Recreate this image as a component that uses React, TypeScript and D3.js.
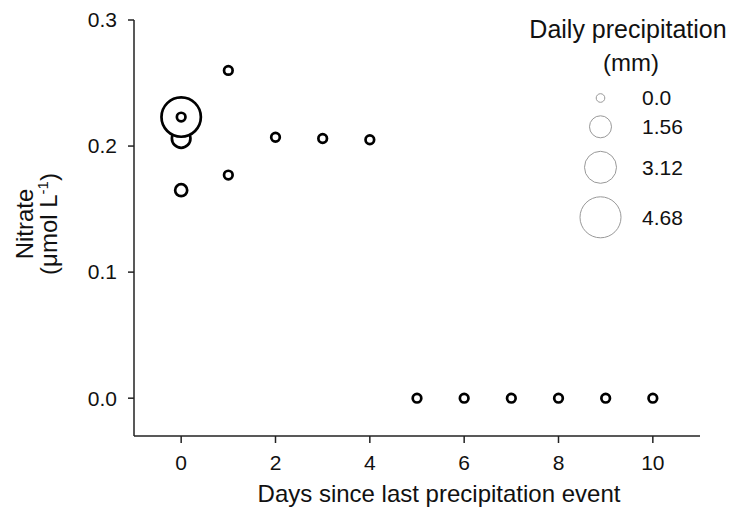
import React from "react";
import * as d3 from "d3";

const days = [0, 0, 0, 0, 1, 1, 2, 3, 4, 5, 6, 7, 8, 9, 10];
const nitrate = [0.206, 0.223, 0.223, 0.165, 0.26, 0.177, 0.207, 0.206, 0.205, 0, 0, 0, 0, 0, 0];
const precip = [1.16, 4.4, 0, 0.4, 0, 0, 0, 0, 0, 0, 0, 0, 0, 0, 0];

const xTicks = [0, 2, 4, 6, 8, 10];
const yTicks = [0, 0.1, 0.2, 0.3];
const legendValues = [0, 1.56, 3.12, 4.68];
const legendLabels = ["0.0", "1.56", "3.12", "4.68"];

const W = 730;
const H = 511;
const FONT = "'Liberation Sans', Arial, sans-serif";

export default function App() {
  const x = d3.scaleLinear().domain([-1, 11]).range([134, 700]);
  const y = d3.scaleLinear().domain([-0.03, 0.3]).range([436, 20]);
  const r = d3.scaleLinear().domain([0, 1.56, 3.12, 4.68]).range([4.3, 11, 16, 20.5]);
  const fmt = d3.format(".1f");

  const gap = 13.5;
  const legendY: number[] = [];
  legendValues.forEach((v, i) => {
    if (i === 0) legendY.push(98);
    else legendY.push(legendY[i - 1] + r(legendValues[i - 1]) + gap + r(v));
  });

  return (
    <svg
      width={W}
      height={H}
      style={{ position: "absolute", left: 0, top: 0, background: "#fff" }}
      fontFamily={FONT}
    >
      {/* axes */}
      <line x1={x(-1)} x2={x(-1)} y1={y(0.3)} y2={y(-0.03)} stroke="#222" strokeWidth={1.5} />
      <line x1={x(-1)} x2={x(11)} y1={y(-0.03)} y2={y(-0.03)} stroke="#222" strokeWidth={1.5} />
      {yTicks.map((t) => (
        <g key={"y" + t}>
          <line x1={x(-1) - 6} x2={x(-1)} y1={y(t)} y2={y(t)} stroke="#222" strokeWidth={1.5} />
          <text x={117} y={y(t)} dy="0.35em" textAnchor="end" fontSize={21} fill="#111">
            {fmt(t)}
          </text>
        </g>
      ))}
      {xTicks.map((t) => (
        <g key={"x" + t}>
          <line x1={x(t)} x2={x(t)} y1={y(-0.03)} y2={y(-0.03) + 7} stroke="#222" strokeWidth={1.5} />
          <text x={x(t)} y={470} textAnchor="middle" fontSize={21} fill="#111">
            {t}
          </text>
        </g>
      ))}
      <text x={439} y={502} textAnchor="middle" fontSize={24} fill="#111">
        Days since last precipitation event
      </text>
      <g transform="translate(33,224) rotate(-90)">
        <text x={0} y={0} textAnchor="middle" fontSize={24} fill="#111">
          Nitrate
        </text>
      </g>
      <g transform="translate(57,224) rotate(-90)">
        <text x={0} y={0} textAnchor="middle" fontSize={24} fill="#111">
          (μmol L<tspan dy={-9} fontSize={15}>-1</tspan>
          <tspan dy={9}>)</tspan>
        </text>
      </g>

      {/* points */}
      {days.map((d, i) => (
        <circle
          key={"p" + i}
          cx={x(d)}
          cy={y(nitrate[i])}
          r={r(precip[i])}
          fill="#fff"
          stroke="#000"
          strokeWidth={2.7}
        />
      ))}

      {/* legend */}
      <text x={628} y={38} textAnchor="middle" fontSize={25} fill="#111">
        Daily precipitation
      </text>
      <text x={631} y={71} textAnchor="middle" fontSize={24} fill="#111">
        (mm)
      </text>
      {legendValues.map((v, i) => (
        <g key={"l" + i}>
          <circle cx={600.5} cy={legendY[i]} r={r(v)} fill="none" stroke="#999" strokeWidth={1} />
          <text x={642} y={legendY[i]} dy="0.35em" fontSize={21} fill="#111">
            {legendLabels[i]}
          </text>
        </g>
      ))}
    </svg>
  );
}
